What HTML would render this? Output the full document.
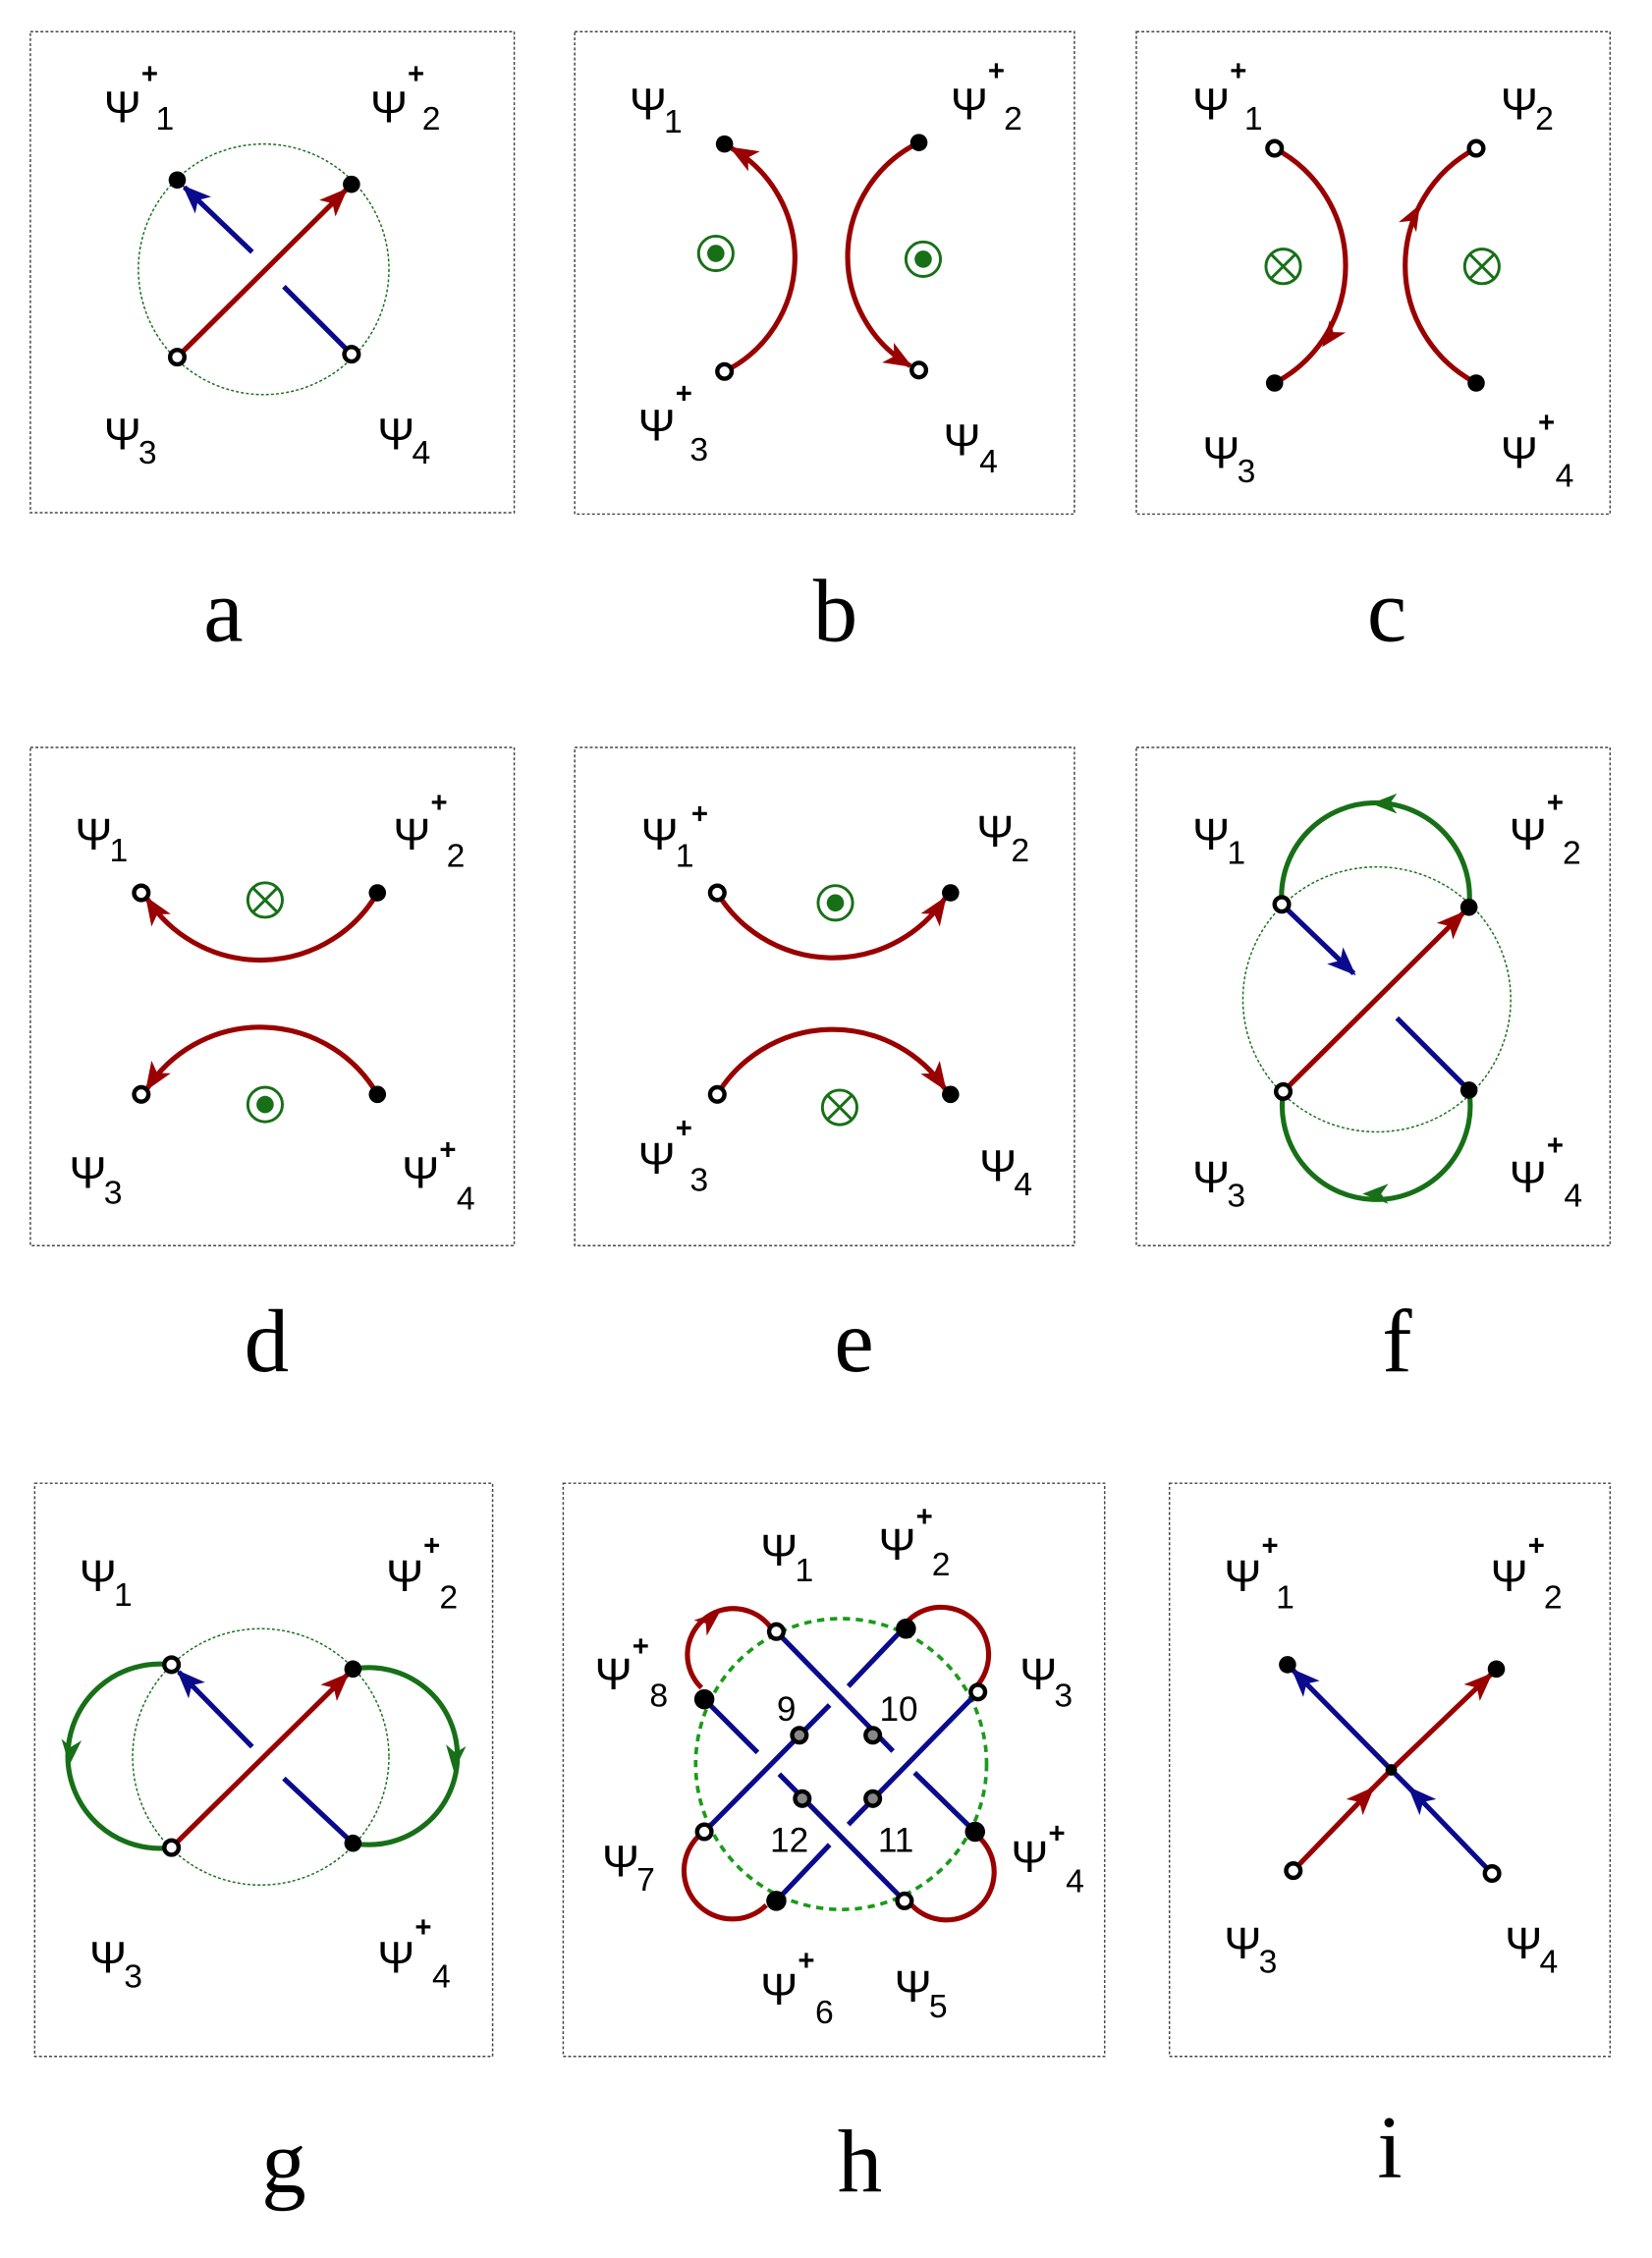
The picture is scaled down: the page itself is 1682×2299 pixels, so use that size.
<!DOCTYPE html>
<html><head><meta charset="utf-8"><style>
html,body{margin:0;padding:0;background:#fff}
svg{display:block}
.L{font-family:"Liberation Sans","DejaVu Sans",sans-serif;font-size:31px;fill:#000}
.s{font-family:"Liberation Sans","DejaVu Sans",sans-serif;font-size:23px;fill:#000}
.p{font-family:"Liberation Sans","DejaVu Sans",sans-serif;font-size:20px;font-weight:bold;fill:#000}
.cap{font-family:"Liberation Serif",serif;font-size:62px;fill:#000;text-anchor:middle}
.n{font-family:"Liberation Sans",sans-serif;font-size:24px;fill:#000;text-anchor:middle}
.box{fill:none;stroke:#444;stroke-width:1;stroke-dasharray:2,1.5}
.r{stroke:#990000;stroke-width:3.5;fill:none}
.b{stroke:#0a0a8c;stroke-width:3.5;fill:none}
.g{stroke:#177017;stroke-width:3.5;fill:none}
.gc{stroke:#177017;stroke-width:1;fill:none;stroke-dasharray:2,1.5}
.f{fill:#000}
.o{fill:#fff;stroke:#000;stroke-width:3}
.gr{fill:#888;stroke:#000;stroke-width:3}
</style></head><body>
<svg width="1682" height="2299" viewBox="0 0 1147 1568" xmlns="http://www.w3.org/2000/svg">
<defs>
<marker id="mr" markerUnits="userSpaceOnUse" markerWidth="24" markerHeight="18" refX="18" refY="8" orient="auto"><path d="M0,0 L20,8 L0,16 L5,8 z" fill="#990000"/></marker>
<marker id="mb" markerUnits="userSpaceOnUse" markerWidth="24" markerHeight="18" refX="18" refY="8" orient="auto"><path d="M0,0 L20,8 L0,16 L5,8 z" fill="#0a0a8c"/></marker>
<path id="ah" d="M0,0 L-18,-7 L-13,0 L-18,7 z"/>
<g id="odot"><circle r="12" fill="none" stroke="#177017" stroke-width="2"/><circle r="6" fill="#177017"/></g>
<g id="otim"><circle r="12" fill="none" stroke="#177017" stroke-width="2"/><path d="M-8.5,-8.5 L8.5,8.5 M-8.5,8.5 L8.5,-8.5" stroke="#177017" stroke-width="2"/></g>
</defs>

<rect class="box" x="21" y="22" width="336" height="334"/>
<rect class="box" x="399" y="22" width="347" height="335"/>
<rect class="box" x="789" y="22" width="329" height="335"/>
<rect class="box" x="21" y="519" width="336" height="346"/>
<rect class="box" x="399" y="519" width="347" height="346"/>
<rect class="box" x="789" y="519" width="329" height="346"/>
<rect class="box" x="24" y="1030" width="318" height="398"/>
<rect class="box" x="391" y="1030" width="376" height="398"/>
<rect class="box" x="812" y="1030" width="306" height="398"/>

<text class="cap" x="155" y="445">a</text>
<text class="cap" x="580" y="445">b</text>
<text class="cap" x="963" y="445">c</text>
<text class="cap" x="185" y="952">d</text>
<text class="cap" x="593" y="952">e</text>
<text class="cap" x="970" y="952">f</text>
<text class="cap" x="197" y="1522">g</text>
<text class="cap" x="597" y="1522">h</text>
<text class="cap" x="965" y="1512">i</text>

<!-- a -->
<ellipse class="gc" cx="183" cy="187" rx="87" ry="87"/>
<line class="r" x1="123" y1="248" x2="240" y2="132" marker-end="url(#mr)"/>
<line class="b" x1="244" y1="246" x2="197" y2="199"/>
<line class="b" x1="175" y1="175" x2="128" y2="130" marker-end="url(#mb)"/>
<circle class="f" cx="123" cy="125" r="6"/><circle class="f" cx="244" cy="128" r="6"/>
<circle class="o" cx="123" cy="248" r="5"/><circle class="o" cx="244" cy="246" r="5"/>
<text class="L" x="72" y="85">Ψ</text><text class="p" x="98" y="58">+</text><text class="s" x="108" y="90">1</text>
<text class="L" x="257" y="85">Ψ</text><text class="p" x="283" y="58">+</text><text class="s" x="293" y="90">2</text>
<text class="L" x="72" y="312">Ψ</text><text class="s" x="96" y="322">3</text>
<text class="L" x="262" y="312">Ψ</text><text class="s" x="286" y="322">4</text>

<!-- b -->
<path class="r" d="M503,258 A88,88 0 0 0 508,103" marker-end="url(#mr)"/>
<path class="r" d="M638,99 A88,88 0 0 0 632,254" marker-end="url(#mr)"/>
<circle class="f" cx="503" cy="100" r="6"/><circle class="f" cx="638" cy="99" r="6"/>
<circle class="o" cx="503" cy="258" r="5"/><circle class="o" cx="638" cy="257" r="5"/>
<use href="#odot" x="497" y="176"/><use href="#odot" x="641" y="180"/>
<text class="L" x="437" y="83">Ψ</text><text class="s" x="461" y="92">1</text>
<text class="L" x="660" y="83">Ψ</text><text class="p" x="686" y="56">+</text><text class="s" x="697" y="90">2</text>
<text class="L" x="443" y="306">Ψ</text><text class="p" x="469" y="280">+</text><text class="s" x="479" y="320">3</text>
<text class="L" x="655" y="316">Ψ</text><text class="s" x="680" y="328">4</text>

<!-- c -->
<path class="r" d="M885,103 A92,92 0 0 1 885,266"/>
<path class="r" d="M1025,266 A92,92 0 0 1 1025,103"/>
<use href="#ah" fill="#990000" transform="translate(918,241) rotate(127)"/>
<use href="#ah" fill="#990000" transform="translate(986,142) rotate(-61)"/>
<circle class="o" cx="885" cy="103" r="5"/><circle class="o" cx="1025" cy="103" r="5"/>
<circle class="f" cx="885" cy="266" r="6"/><circle class="f" cx="1025" cy="266" r="6"/>
<use href="#otim" x="891" y="185"/><use href="#otim" x="1029" y="185"/>
<text class="L" x="828" y="83">Ψ</text><text class="p" x="854" y="56">+</text><text class="s" x="864" y="90">1</text>
<text class="L" x="1042" y="83">Ψ</text><text class="s" x="1066" y="90">2</text>
<text class="L" x="835" y="325">Ψ</text><text class="s" x="859" y="335">3</text>
<text class="L" x="1042" y="325">Ψ</text><text class="p" x="1068" y="300">+</text><text class="s" x="1080" y="338">4</text>

<!-- d -->
<path class="r" d="M262,620 A94,94 0 0 1 102,624" marker-end="url(#mr)"/>
<path class="r" d="M262,760 A94,94 0 0 0 102,756" marker-end="url(#mr)"/>
<circle class="o" cx="98" cy="620" r="5"/><circle class="f" cx="262" cy="620" r="6"/>
<circle class="o" cx="98" cy="760" r="5"/><circle class="f" cx="262" cy="760" r="6"/>
<use href="#otim" x="184" y="625"/><use href="#odot" x="184" y="767"/>
<text class="L" x="52" y="590">Ψ</text><text class="s" x="76" y="598">1</text>
<text class="L" x="273" y="590">Ψ</text><text class="p" x="299" y="564">+</text><text class="s" x="310" y="602">2</text>
<text class="L" x="48" y="825">Ψ</text><text class="s" x="72" y="836">3</text>
<text class="L" x="279" y="825">Ψ</text><text class="p" x="305" y="805">+</text><text class="s" x="317" y="840">4</text>

<!-- e -->
<path class="r" d="M498,620 A94,94 0 0 0 656,624" marker-end="url(#mr)"/>
<path class="r" d="M498,760 A94,94 0 0 1 656,756" marker-end="url(#mr)"/>
<circle class="o" cx="498" cy="620" r="5"/><circle class="f" cx="660" cy="620" r="6"/>
<circle class="o" cx="498" cy="760" r="5"/><circle class="f" cx="660" cy="760" r="6"/>
<use href="#odot" x="580" y="627"/><use href="#otim" x="583" y="769"/>
<text class="L" x="445" y="590">Ψ</text><text class="s" x="469" y="602">1</text><text class="p" x="480" y="572">+</text>
<text class="L" x="678" y="588">Ψ</text><text class="s" x="702" y="598">2</text>
<text class="L" x="443" y="815">Ψ</text><text class="p" x="469" y="790">+</text><text class="s" x="479" y="827">3</text>
<text class="L" x="680" y="820">Ψ</text><text class="s" x="704" y="830">4</text>

<!-- f -->
<ellipse class="gc" cx="956" cy="694" rx="93" ry="92"/>
<path class="g" d="M1020,630 A65.3,65.3 0 1 0 890,628"/>
<path class="g" d="M891,758 A65.3,65.3 0 1 0 1020,757"/>
<use href="#ah" fill="#177017" transform="translate(952,558) rotate(180)"/>
<use href="#ah" fill="#177017" transform="translate(946,829) rotate(180)"/>
<line class="r" x1="891" y1="758" x2="1016" y2="634" marker-end="url(#mr)"/>
<line class="b" x1="890" y1="628" x2="940" y2="676" marker-end="url(#mb)"/>
<line class="b" x1="970" y1="707" x2="1020" y2="757"/>
<circle class="o" cx="890" cy="628" r="5"/><circle class="f" cx="1020" cy="630" r="6"/>
<circle class="o" cx="891" cy="758" r="5"/><circle class="f" cx="1020" cy="757" r="6"/>
<text class="L" x="828" y="590">Ψ</text><text class="s" x="852" y="600">1</text>
<text class="L" x="1048" y="590">Ψ</text><text class="p" x="1074" y="564">+</text><text class="s" x="1085" y="600">2</text>
<text class="L" x="828" y="828">Ψ</text><text class="s" x="852" y="838">3</text>
<text class="L" x="1048" y="828">Ψ</text><text class="p" x="1074" y="802">+</text><text class="s" x="1086" y="838">4</text>

<!-- g -->
<ellipse class="gc" cx="181" cy="1220" rx="89" ry="89"/>
<path class="g" d="M119,1156 A64,64 0 1 0 119,1283"/>
<path class="g" d="M245,1159 A61.5,61.5 0 1 1 245,1280"/>
<use href="#ah" fill="#177017" transform="translate(48,1226) rotate(95)"/>
<use href="#ah" fill="#177017" transform="translate(315,1230) rotate(95)"/>
<line class="r" x1="119" y1="1283" x2="241" y2="1163" marker-end="url(#mr)"/>
<line class="b" x1="245" y1="1280" x2="197" y2="1235"/>
<line class="b" x1="175" y1="1213" x2="124" y2="1161" marker-end="url(#mb)"/>
<circle class="o" cx="119" cy="1156" r="5"/><circle class="f" cx="245" cy="1159" r="6"/>
<circle class="o" cx="119" cy="1283" r="5"/><circle class="f" cx="245" cy="1280" r="6"/>
<text class="L" x="55" y="1105">Ψ</text><text class="s" x="79" y="1115">1</text>
<text class="L" x="268" y="1105">Ψ</text><text class="p" x="294" y="1080">+</text><text class="s" x="305" y="1117">2</text>
<text class="L" x="62" y="1370">Ψ</text><text class="s" x="86" y="1380">3</text>
<text class="L" x="262" y="1370">Ψ</text><text class="p" x="288" y="1345">+</text><text class="s" x="300" y="1380">4</text>

<!-- h -->
<circle cx="584" cy="1225" r="101" fill="none" stroke="#1a9a1a" stroke-width="2.5" stroke-dasharray="5,4"/>
<path class="r" d="M487,1172 A32,32 0 1 1 535,1130"/>
<use href="#ah" fill="#990000" transform="translate(500,1119) rotate(-40)"/>
<path class="r" d="M629,1127 A30,30 0 1 1 678,1171"/>
<path class="r" d="M681,1277 A30,30 0 1 1 633,1323"/>
<path class="r" d="M485,1275 A30,30 0 1 0 532,1323"/>
<line class="b" x1="539" y1="1133" x2="620" y2="1216"/>
<line class="b" x1="541" y1="1232" x2="628" y2="1320"/>
<line class="b" x1="629" y1="1129" x2="589" y2="1171"/>
<line class="b" x1="576" y1="1184" x2="489" y2="1272"/>
<line class="b" x1="679" y1="1175" x2="589" y2="1267"/>
<line class="b" x1="576" y1="1281" x2="539" y2="1320"/>
<line class="b" x1="489" y1="1180" x2="526" y2="1217"/>
<line class="b" x1="635" y1="1231" x2="677" y2="1272"/>
<circle class="o" cx="539" cy="1133" r="5"/><circle class="f" cx="629" cy="1131" r="7"/>
<circle class="o" cx="679" cy="1175" r="5"/><circle class="f" cx="677" cy="1272" r="7"/>
<circle class="o" cx="628" cy="1320" r="5"/><circle class="f" cx="539" cy="1320" r="7"/>
<circle class="o" cx="489" cy="1272" r="5"/><circle class="f" cx="489" cy="1180" r="7"/>
<circle class="gr" cx="555" cy="1205" r="5"/><circle class="gr" cx="606" cy="1205" r="5"/>
<circle class="gr" cx="557" cy="1249" r="5"/><circle class="gr" cx="606" cy="1249" r="5"/>
<text class="n" x="546" y="1195">9</text><text class="n" x="624" y="1195">10</text>
<text class="n" x="548" y="1286">12</text><text class="n" x="622" y="1286">11</text>
<text class="L" x="528" y="1087">Ψ</text><text class="s" x="552" y="1098">1</text>
<text class="L" x="610" y="1083">Ψ</text><text class="p" x="636" y="1060">+</text><text class="s" x="647" y="1094">2</text>
<text class="L" x="413" y="1173">Ψ</text><text class="p" x="439" y="1150">+</text><text class="s" x="451" y="1185">8</text>
<text class="L" x="708" y="1173">Ψ</text><text class="s" x="732" y="1185">3</text>
<text class="L" x="418" y="1303">Ψ</text><text class="s" x="442" y="1313">7</text>
<text class="L" x="702" y="1300">Ψ</text><text class="p" x="728" y="1280">+</text><text class="s" x="740" y="1314">4</text>
<text class="L" x="528" y="1392">Ψ</text><text class="p" x="554" y="1368">+</text><text class="s" x="566" y="1405">6</text>
<text class="L" x="621" y="1390">Ψ</text><text class="s" x="645" y="1401">5</text>

<!-- i -->
<line class="r" x1="898" y1="1299" x2="953" y2="1242" marker-end="url(#mr)"/>
<line class="r" x1="950" y1="1245" x2="966" y2="1229"/>
<line class="r" x1="966" y1="1229" x2="1035" y2="1163" marker-end="url(#mr)"/>
<line class="b" x1="1036" y1="1301" x2="979" y2="1242" marker-end="url(#mb)"/>
<line class="b" x1="982" y1="1245" x2="966" y2="1229"/>
<line class="b" x1="966" y1="1229" x2="898" y2="1160" marker-end="url(#mb)"/>
<circle class="f" cx="966" cy="1229" r="4"/>
<circle class="f" cx="894" cy="1156" r="6"/><circle class="f" cx="1039" cy="1159" r="6"/>
<circle class="o" cx="898" cy="1299" r="5"/><circle class="o" cx="1036" cy="1301" r="5"/>
<text class="L" x="850" y="1105">Ψ</text><text class="p" x="876" y="1080">+</text><text class="s" x="886" y="1117">1</text>
<text class="L" x="1035" y="1105">Ψ</text><text class="p" x="1061" y="1080">+</text><text class="s" x="1072" y="1117">2</text>
<text class="L" x="850" y="1360">Ψ</text><text class="s" x="874" y="1370">3</text>
<text class="L" x="1045" y="1360">Ψ</text><text class="s" x="1069" y="1370">4</text>
</svg>
</body></html>
